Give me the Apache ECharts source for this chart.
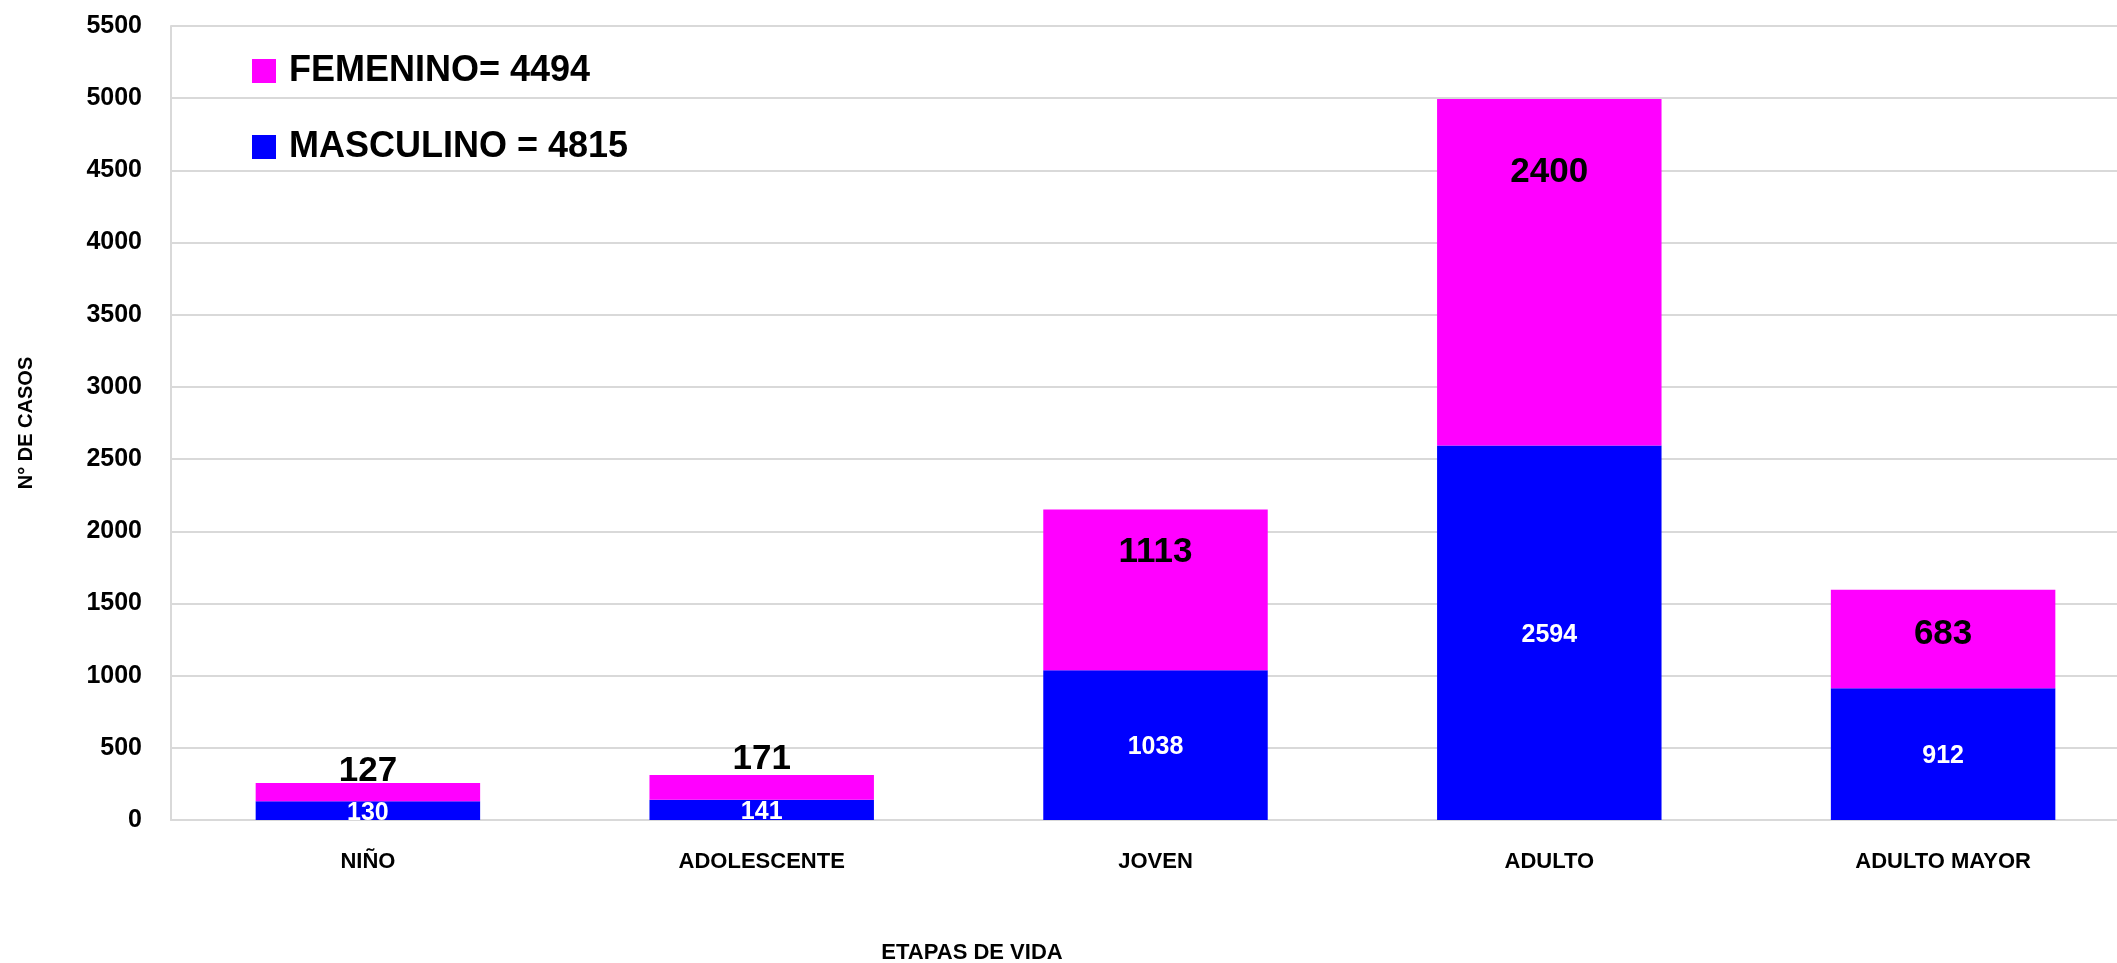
<!DOCTYPE html>
<html>
<head>
<meta charset="utf-8">
<script src="https://cdn.jsdelivr.net/npm/echarts@6/dist/echarts.min.js"></script>
<style>
  html, body { margin: 0; padding: 0; background: #fff; }
  #chart { width: 2117px; height: 963px; }
</style>
</head>
<body>
<div id="chart"></div>
<script>
const etapas = ['NIÑO', 'ADOLESCENTE', 'JOVEN', 'ADULTO', 'ADULTO MAYOR'];
const masculino = [130, 141, 1038, 2594, 912];
const femenino = [127, 171, 1113, 2400, 683];

const font = 'Liberation Sans';
const suma = arr => arr.reduce((a, b) => a + b, 0);

// etiquetas del femenino: las dos primeras encima, las demas dentro arriba
const femLabel = [
  { position: 'top', distance: -6 },
  { position: 'top', distance: -2 },
  { position: 'insideTop', distance: 25 },
  { position: 'insideTop', distance: 56 },
  { position: 'insideTop', distance: 27 }
];

const chart = echarts.init(document.getElementById('chart'));
const option = {
  animation: false,
  textStyle: { fontFamily: font },
  grid: { left: 171, width: 1969, top: 26, bottom: 143, outerBoundsMode: 'none' },
  legend: {
    data: ['FEMENINO', 'MASCULINO'],
    orient: 'vertical',
    left: 247,
    top: 46,
    icon: 'rect',
    itemWidth: 24,
    itemHeight: 24,
    itemGap: 36,
    formatter: name => name === 'FEMENINO'
      ? 'FEMENINO= ' + suma(femenino)
      : 'MASCULINO = ' + suma(masculino),
    textStyle: { fontFamily: font, fontSize: 36, fontWeight: 'bold', color: '#000', lineHeight: 40, padding: [0, 0, 0, 8] }
  },
  xAxis: {
    type: 'category',
    data: etapas,
    name: 'ETAPAS DE VIDA',
    nameLocation: 'middle',
    nameGap: 122,
    nameTextStyle: { fontFamily: font, fontSize: 22, fontWeight: 'bold', color: '#000', padding: [0, 367, 0, 0] },
    axisLine: { lineStyle: { color: '#d9d9d9', width: 2 } },
    axisTick: { show: false },
    axisLabel: { fontFamily: font, fontSize: 22, fontWeight: 'bold', color: '#000', margin: 31 }
  },
  yAxis: {
    type: 'value',
    min: 0,
    max: 5500,
    interval: 500,
    name: 'N° DE CASOS',
    nameLocation: 'middle',
    nameRotate: 90,
    nameGap: 135,
    nameTextStyle: { fontFamily: font, fontSize: 20, fontWeight: 'bold', color: '#000' },
    axisLine: { show: true, lineStyle: { color: '#d9d9d9', width: 2 } },
    axisTick: { show: false },
    axisLabel: { fontFamily: font, fontSize: 25, fontWeight: 'bold', color: '#000', margin: 29, formatter: v => String(v) },
    splitLine: { lineStyle: { color: '#d9d9d9', width: 2 } }
  },
  series: [
    {
      name: 'MASCULINO',
      type: 'bar',
      stack: 'total',
      barCategoryGap: '43%',
      itemStyle: { color: '#0000ff' },
      label: {
        show: true,
        position: 'inside',
        offset: [0, 2],
        color: '#fff',
        fontFamily: font,
        fontSize: 25,
        fontWeight: 'bold'
      },
      data: masculino
    },
    {
      name: 'FEMENINO',
      type: 'bar',
      stack: 'total',
      barCategoryGap: '43%',
      itemStyle: { color: '#ff00ff' },
      label: {
        show: true,
        color: '#000',
        fontFamily: font,
        fontSize: 35,
        fontWeight: 'bold'
      },
      data: femenino.map((v, i) => ({ value: v, label: femLabel[i] }))
    }
  ]
};
chart.setOption(option);
</script>
</body>
</html>
